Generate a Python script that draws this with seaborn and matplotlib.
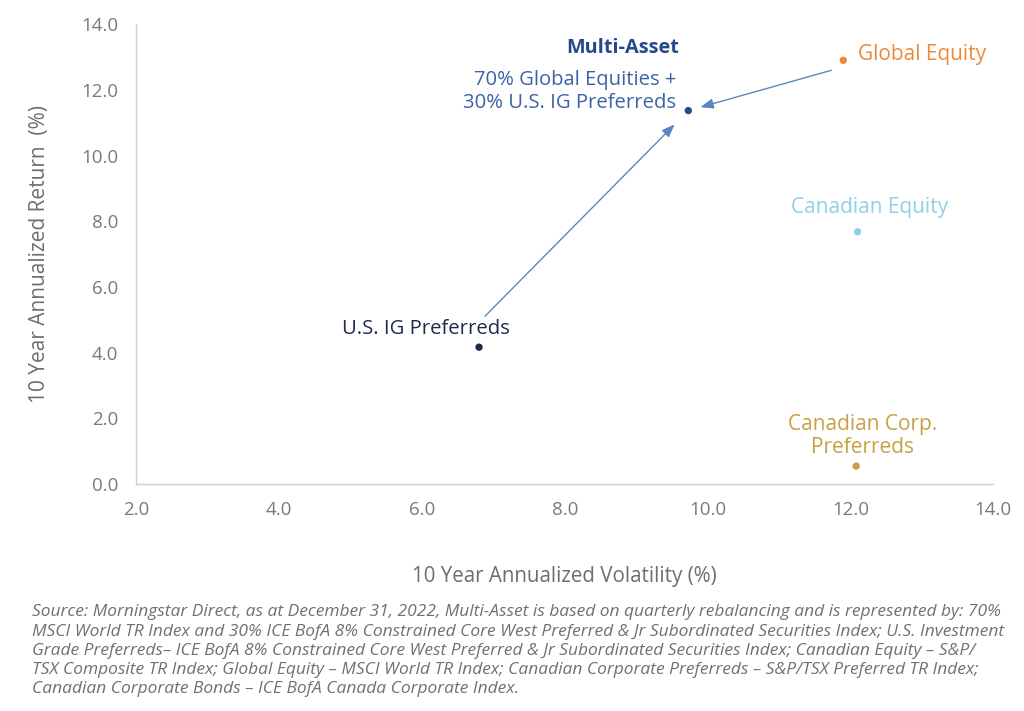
import matplotlib
matplotlib.use("Agg")
import matplotlib.pyplot as plt
import matplotlib.transforms as mtransforms
import seaborn as sns
import pandas as pd

# ---- data ----
names = ["U.S. IG Preferreds", "Multi-Asset", "Global Equity", "Canadian Equity", "Canadian Corp. Preferreds"]
volatility = [6.8, 9.73, 11.9, 12.1, 12.08]
returns = [4.17, 11.37, 12.9, 7.68, 0.55]
colors = ["#1c2b4b", "#27488a", "#ea8a3c", "#8fcfe8", "#c9a043"]
x_ticks = [2.0, 4.0, 6.0, 8.0, 10.0, 12.0, 14.0]
y_ticks = [0.0, 2.0, 4.0, 6.0, 8.0, 10.0, 12.0, 14.0]

footnote = ("Source: Morningstar Direct, as at December 31, 2022, Multi-Asset is based on quarterly rebalancing and is represented by: 70%\n"
            "MSCI World TR Index and 30% ICE BofA 8% Constrained Core West Preferred & Jr Subordinated Securities Index; U.S. Investment\n"
            "Grade Preferreds\u2013 ICE BofA 8% Constrained Core West Preferred & Jr Subordinated Securities Index; Canadian Equity \u2013 S&P/\n"
            "TSX Composite TR Index; Global Equity \u2013 MSCI World TR Index; Canadian Corporate Preferreds \u2013 S&P/TSX Preferred TR Index;\n"
            "Canadian Corporate Bonds \u2013 ICE BofA Canada Corporate Index.")

df = pd.DataFrame({"name": names, "vol": volatility, "ret": returns})

sns.set_theme(style="white")
plt.rcParams["font.family"] = ["Open Sans", "DejaVu Sans"]

fig = plt.figure(figsize=(10.24, 7.11), dpi=100)
ax = fig.add_axes([0.133, 0.319, 0.837, 0.647])

sns.scatterplot(data=df, x="vol", y="ret", hue="name", palette=colors,
                s=28, edgecolor="none", legend=False, ax=ax, zorder=3)

ax.set_xlim(2, 14)
ax.set_ylim(0, 14)
ax.set_xticks(x_ticks)
ax.set_yticks(y_ticks)
ax.set_xticklabels([f"{v:.1f}" for v in x_ticks])
ax.set_yticklabels([f"{v:.1f}" for v in y_ticks])
ax.tick_params(axis="both", length=0, labelsize=13.5, labelcolor="#7a7a7a")
ax.tick_params(axis="y", pad=13)
ax.tick_params(axis="x", pad=12)
for s in ["top", "right"]:
    ax.spines[s].set_visible(False)
for s in ["left", "bottom"]:
    ax.spines[s].set_color("#cfcfcf")
    ax.spines[s].set_linewidth(1.0)

ax.set_xlabel("10 Year Annualized Volatility (%)", fontsize=14.8, color="#6e6e6e", labelpad=34)
ax.set_ylabel("10 Year Annualized Return  (%)", fontsize=15, color="#6e6e6e", labelpad=22)

pts = dict(zip(names, zip(volatility, returns)))
col = dict(zip(names, colors))

def label(name, text, dx, dy, ha="center", va="center", color=None, weight="normal", size=14.8, ls=1.2):
    ax.annotate(text, xy=pts[name], xytext=(dx, dy), textcoords="offset pixels",
                ha=ha, va=va, color=color or col[name], fontsize=size,
                fontweight=weight, linespacing=ls)

label("U.S. IG Preferreds", "U.S. IG Preferreds", -53, 18, size=14.6)
label("Multi-Asset", "Multi-Asset", -66, 63, weight="bold", color="#27488a", size=14.3)
label("Multi-Asset", "70% Global Equities +\n30% U.S. IG Preferreds", -12, 19, ha="right",
      color="#3d63a6", size=14.6, ls=1.2)
label("Global Equity", "Global Equity", 15, 6, ha="left", size=15)
label("Canadian Equity", "Canadian Equity", 12, 24, size=15)
label("Canadian Corp. Preferreds", "Canadian Corp.\nPreferreds", 6, 30, size=15, ls=1.15)

arrow_color = "#5b86c4"
start1 = mtransforms.offset_copy(ax.transData, fig=fig, x=6, y=31, units="dots")
start2 = mtransforms.offset_copy(ax.transData, fig=fig, x=-12, y=-10, units="dots")
ax.annotate("", xy=pts["Multi-Asset"], xytext=pts["U.S. IG Preferreds"], textcoords=start1,
            arrowprops=dict(arrowstyle="-|>,head_length=0.65,head_width=0.25", color=arrow_color,
                            lw=1.0, shrinkA=0, shrinkB=14))
ax.annotate("", xy=pts["Multi-Asset"], xytext=pts["Global Equity"], textcoords=start2,
            arrowprops=dict(arrowstyle="-|>,head_length=0.65,head_width=0.25", color=arrow_color,
                            lw=1.0, shrinkA=0, shrinkB=9))

fig.text(0.031, 0.0845, footnote, fontsize=12.5, style="italic", color="#707070",
         ha="left", va="center", linespacing=1.27)

fig.savefig("out.png", dpi=100)
